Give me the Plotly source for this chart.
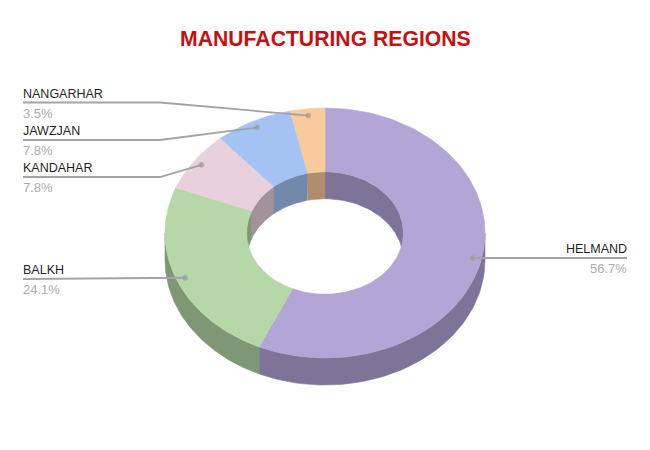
import numpy as np
import plotly.graph_objects as go

regions = ["HELMAND", "BALKH", "KANDAHAR", "JAWZJAN", "NANGARHAR"]
shares = [56.7, 24.1, 7.8, 7.8, 3.5]
top_colors = ["#B3A5D6", "#B6D7A8", "#E8D0DC", "#A4C2F4", "#F9CB9C"]
wall_colors = ["#7E7497", "#809776", "#A3929B", "#7389AB", "#AF8E6D"]
title_text = "MANUFACTURING REGIONS"

# label layout: text x, text anchor, leader y
label_x = [627, 23, 23, 23, 23]
label_anchor = ["right", "left", "left", "left", "left"]
leader_y = [258, 279, 177, 140, 102.5]

CX, CY, RX, RY, HOLE, DEPTH, ELBOW = 325, 233, 160, 125, 0.49, 27, 160
LINE = "#A3A3A3"
PAGE_MARGIN = 8  # the page body offsets the figure; axes are shifted to compensate

fig = go.Figure()


def pt(theta, frac=1.0, dy=0.0):
    t = np.radians(theta)
    return CX + RX * frac * np.sin(t), CY - RY * frac * np.cos(t) + dy


def poly(x, y, color):
    fig.add_trace(go.Scatter(x=list(x), y=list(y), mode="lines", fill="toself",
                             fillcolor=color, line=dict(width=0.6, color=color),
                             hoverinfo="skip", showlegend=False))


def wall(a, b, frac, color):
    if b <= a:
        return
    th = np.linspace(a, b, 60)
    x, y = pt(th, frac)
    x2, y2 = pt(th[::-1], frac, DEPTH)
    poly(np.r_[x, x2, x[0]], np.r_[y, y2, y[0]], color)


total = sum(shares)
edges = np.r_[0, np.cumsum(shares)] / total * 360

# inner back wall (upper half of the hole)
for i in range(len(shares)):
    a, b = edges[i], edges[i + 1]
    wall(max(a, 0), min(b, 90), HOLE, wall_colors[i])
    wall(max(a, 270), min(b, 360), HOLE, wall_colors[i])
# outer front wall (lower half)
for i in range(len(shares)):
    wall(max(edges[i], 90), min(edges[i + 1], 270), 1.0, wall_colors[i])
# top surface
for i in range(len(shares)):
    th = np.linspace(edges[i], edges[i + 1], 120)
    xo, yo = pt(th)
    xi, yi = pt(th[::-1], HOLE)
    poly(np.r_[xo, xi, xo[0]], np.r_[yo, yi, yo[0]], top_colors[i])

# leaders and labels
for i, name in enumerate(regions):
    mid = (edges[i] + edges[i + 1]) / 2
    dx, dy = pt(mid, 0.945)
    if label_anchor[i] == "right":
        xs, ys = [label_x[i], dx], [leader_y[i], leader_y[i]]
    elif name == "BALKH":
        xs, ys = [label_x[i], dx], [leader_y[i], dy]
    else:
        xs, ys = [label_x[i], ELBOW, dx], [leader_y[i], leader_y[i], dy]
    fig.add_trace(go.Scatter(x=xs, y=ys, mode="lines+markers",
                             line=dict(color=LINE, width=1.8),
                             marker=dict(color="#999999", size=[0] * (len(xs) - 1) + [5]),
                             hoverinfo="skip", showlegend=False))
    fig.add_annotation(x=label_x[i], y=leader_y[i] - 2, text=name, showarrow=False,
                       xanchor=label_anchor[i], yanchor="bottom",
                       font=dict(family="Liberation Sans", size=12.5, color="#1F1F1F"),
                       borderpad=0, borderwidth=0)
    fig.add_annotation(x=label_x[i], y=leader_y[i] + 3, text=f"{shares[i]}%", showarrow=False,
                       xanchor=label_anchor[i], yanchor="top",
                       font=dict(family="Liberation Sans", size=13, color="#ABABAB"),
                       borderpad=0, borderwidth=0)

fig.add_annotation(x=325.5, y=38, text=f"<b>{title_text}</b>", showarrow=False,
                   xanchor="center", yanchor="middle",
                   font=dict(family="Liberation Sans", size=21.2, color="#C80F0F"))

fig.update_layout(width=650, height=450, margin=dict(l=0, r=0, t=0, b=0),
                  paper_bgcolor="white", plot_bgcolor="white", showlegend=False,
                  xaxis=dict(range=[PAGE_MARGIN, 650 + PAGE_MARGIN], visible=False, fixedrange=True),
                  yaxis=dict(range=[450 + PAGE_MARGIN, PAGE_MARGIN], visible=False, fixedrange=True))
fig.write_html("out.html", config={"displayModeBar": False})
